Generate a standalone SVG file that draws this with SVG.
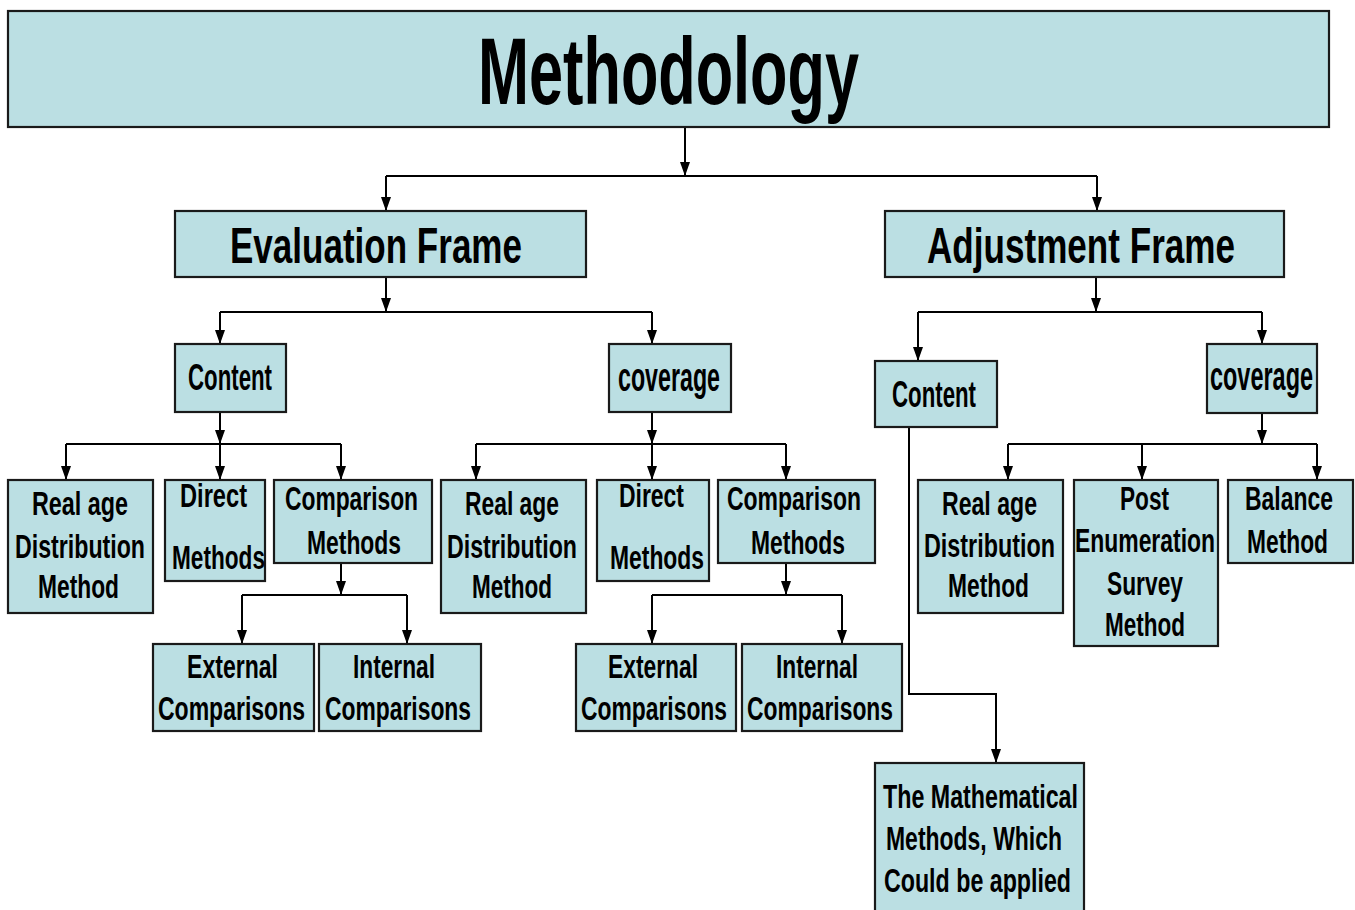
<svg xmlns="http://www.w3.org/2000/svg" width="1355" height="910" viewBox="0 0 1355 910">
  <defs>
    <marker id="arrow" viewBox="0 0 14 10" refX="14" refY="5" markerWidth="14" markerHeight="10" markerUnits="userSpaceOnUse" orient="auto">
      <path d="M0,0 L14,5 L0,10 z" fill="#000"/>
    </marker>
  </defs>
  <style>
    .box { fill: #bbdfe3; stroke: #1a1a1a; stroke-width: 2.2; }
    .lbl { font-family: "Liberation Sans", Arial, sans-serif; font-weight: bold; fill: #000; }
    .sm { font-size: 34px; }
    .link { fill: none; stroke: #000; stroke-width: 2; }
    .arr { fill: none; stroke: #000; stroke-width: 2; marker-end: url(#arrow); }
  </style>
  <rect width="1355" height="910" fill="#fff"/>

  <!-- connectors -->
  <g id="connectors">
    <path class="arr" d="M685 127 V176"/>
    <path class="link" d="M386 176 H1097"/>
    <path class="arr" d="M386 176 V211"/>
    <path class="arr" d="M1097 176 V211"/>

    <path class="arr" d="M386 277 V312"/>
    <path class="link" d="M220 312 H652"/>
    <path class="arr" d="M220 312 V344"/>
    <path class="arr" d="M652 312 V344"/>

    <path class="arr" d="M1096 277 V312"/>
    <path class="link" d="M918 312 H1262"/>
    <path class="arr" d="M918 312 V361"/>
    <path class="arr" d="M1262 312 V344"/>

    <path class="arr" d="M220 412 V444"/>
    <path class="link" d="M66 444 H341"/>
    <path class="arr" d="M66 444 V480"/>
    <path class="arr" d="M220 444 V480"/>
    <path class="arr" d="M341 444 V480"/>
    <path class="arr" d="M341 563 V595"/>
    <path class="link" d="M242 595 H407"/>
    <path class="arr" d="M242 595 V644"/>
    <path class="arr" d="M407 595 V644"/>

    <path class="arr" d="M652 412 V444"/>
    <path class="link" d="M476 444 H786"/>
    <path class="arr" d="M476 444 V480"/>
    <path class="arr" d="M652 444 V480"/>
    <path class="arr" d="M786 444 V480"/>
    <path class="arr" d="M786 563 V595"/>
    <path class="link" d="M652 595 H842"/>
    <path class="arr" d="M652 595 V644"/>
    <path class="arr" d="M842 595 V644"/>

    <path class="arr" d="M1262 413 V444"/>
    <path class="link" d="M1008 444 H1317"/>
    <path class="arr" d="M1008 444 V480"/>
    <path class="arr" d="M1142 444 V480"/>
    <path class="arr" d="M1317 444 V480"/>

    <path class="arr" d="M909 427 V694 H996 V763"/>
  </g>

  <!-- top level -->
  <g id="methodology">
    <rect class="box" x="8" y="11" width="1321" height="116"/>
    <text class="lbl" x="478" y="104" font-size="95" textLength="381" lengthAdjust="spacingAndGlyphs">Methodology</text>
  </g>

  <g id="evaluation-frame">
    <rect class="box" x="175" y="211" width="411" height="66"/>
    <text class="lbl" x="230" y="263" font-size="50" textLength="292" lengthAdjust="spacingAndGlyphs">Evaluation Frame</text>
  </g>

  <g id="adjustment-frame">
    <rect class="box" x="885" y="211" width="399" height="66"/>
    <text class="lbl" x="927" y="263" font-size="50" textLength="308" lengthAdjust="spacingAndGlyphs">Adjustment Frame</text>
  </g>

  <!-- evaluation / content branch -->
  <g id="eval-content">
    <rect class="box" x="175" y="344" width="111" height="68"/>
    <text class="lbl" x="188" y="390" font-size="37" textLength="84" lengthAdjust="spacingAndGlyphs">Content</text>
  </g>
  <g id="eval-content-real-age">
    <rect class="box" x="8" y="480" width="145" height="133"/>
    <text class="lbl sm" x="32" y="515" textLength="96" lengthAdjust="spacingAndGlyphs">Real age</text>
    <text class="lbl sm" x="15" y="558" textLength="130" lengthAdjust="spacingAndGlyphs">Distribution</text>
    <text class="lbl sm" x="38" y="598" textLength="81" lengthAdjust="spacingAndGlyphs">Method</text>
  </g>
  <g id="eval-content-direct">
    <rect class="box" x="165" y="480" width="100" height="101"/>
    <text class="lbl sm" x="180" y="507" textLength="67" lengthAdjust="spacingAndGlyphs">Direct</text>
    <text class="lbl sm" x="172" y="569" textLength="93" lengthAdjust="spacingAndGlyphs">Methods</text>
  </g>
  <g id="eval-content-comparison">
    <rect class="box" x="274" y="480" width="158" height="83"/>
    <text class="lbl sm" x="285" y="510" textLength="133" lengthAdjust="spacingAndGlyphs">Comparison</text>
    <text class="lbl sm" x="307" y="554" textLength="94" lengthAdjust="spacingAndGlyphs">Methods</text>
  </g>
  <g id="eval-content-external">
    <rect class="box" x="153" y="644" width="161" height="87"/>
    <text class="lbl sm" x="187" y="678" textLength="91" lengthAdjust="spacingAndGlyphs">External</text>
    <text class="lbl sm" x="158" y="720" textLength="147" lengthAdjust="spacingAndGlyphs">Comparisons</text>
  </g>
  <g id="eval-content-internal">
    <rect class="box" x="319" y="644" width="162" height="87"/>
    <text class="lbl sm" x="353" y="678" textLength="82" lengthAdjust="spacingAndGlyphs">Internal</text>
    <text class="lbl sm" x="325" y="720" textLength="146" lengthAdjust="spacingAndGlyphs">Comparisons</text>
  </g>

  <!-- evaluation / coverage branch -->
  <g id="eval-coverage">
    <rect class="box" x="609" y="344" width="122" height="68"/>
    <text class="lbl" x="618" y="391" font-size="41" textLength="102" lengthAdjust="spacingAndGlyphs">coverage</text>
  </g>
  <g id="eval-coverage-real-age">
    <rect class="box" x="441" y="480" width="145" height="133"/>
    <text class="lbl sm" x="465" y="515" textLength="94" lengthAdjust="spacingAndGlyphs">Real age</text>
    <text class="lbl sm" x="447" y="558" textLength="130" lengthAdjust="spacingAndGlyphs">Distribution</text>
    <text class="lbl sm" x="472" y="598" textLength="80" lengthAdjust="spacingAndGlyphs">Method</text>
  </g>
  <g id="eval-coverage-direct">
    <rect class="box" x="597" y="480" width="112" height="101"/>
    <text class="lbl sm" x="619" y="507" textLength="65" lengthAdjust="spacingAndGlyphs">Direct</text>
    <text class="lbl sm" x="610" y="569" textLength="94" lengthAdjust="spacingAndGlyphs">Methods</text>
  </g>
  <g id="eval-coverage-comparison">
    <rect class="box" x="718" y="480" width="157" height="83"/>
    <text class="lbl sm" x="727" y="510" textLength="134" lengthAdjust="spacingAndGlyphs">Comparison</text>
    <text class="lbl sm" x="751" y="554" textLength="94" lengthAdjust="spacingAndGlyphs">Methods</text>
  </g>
  <g id="eval-coverage-external">
    <rect class="box" x="576" y="644" width="160" height="87"/>
    <text class="lbl sm" x="608" y="678" textLength="90" lengthAdjust="spacingAndGlyphs">External</text>
    <text class="lbl sm" x="581" y="720" textLength="146" lengthAdjust="spacingAndGlyphs">Comparisons</text>
  </g>
  <g id="eval-coverage-internal">
    <rect class="box" x="742" y="644" width="160" height="87"/>
    <text class="lbl sm" x="776" y="678" textLength="82" lengthAdjust="spacingAndGlyphs">Internal</text>
    <text class="lbl sm" x="747" y="720" textLength="146" lengthAdjust="spacingAndGlyphs">Comparisons</text>
  </g>

  <!-- adjustment branch -->
  <g id="adj-content">
    <rect class="box" x="875" y="361" width="122" height="66"/>
    <text class="lbl" x="892" y="407" font-size="37" textLength="84" lengthAdjust="spacingAndGlyphs">Content</text>
  </g>
  <g id="adj-coverage">
    <rect class="box" x="1207" y="344" width="110" height="69"/>
    <text class="lbl" x="1210" y="390" font-size="41" textLength="103" lengthAdjust="spacingAndGlyphs">coverage</text>
  </g>
  <g id="adj-coverage-real-age">
    <rect class="box" x="918" y="480" width="145" height="133"/>
    <text class="lbl sm" x="942" y="515" textLength="95" lengthAdjust="spacingAndGlyphs">Real age</text>
    <text class="lbl sm" x="924" y="557" textLength="131" lengthAdjust="spacingAndGlyphs">Distribution</text>
    <text class="lbl sm" x="948" y="597" textLength="81" lengthAdjust="spacingAndGlyphs">Method</text>
  </g>
  <g id="adj-coverage-pes">
    <rect class="box" x="1074" y="480" width="144" height="166"/>
    <text class="lbl sm" x="1120" y="510" textLength="49" lengthAdjust="spacingAndGlyphs">Post</text>
    <text class="lbl sm" x="1075" y="552" textLength="140" lengthAdjust="spacingAndGlyphs">Enumeration</text>
    <text class="lbl sm" x="1107" y="595" textLength="76" lengthAdjust="spacingAndGlyphs">Survey</text>
    <text class="lbl sm" x="1105" y="636" textLength="80" lengthAdjust="spacingAndGlyphs">Method</text>
  </g>
  <g id="adj-coverage-balance">
    <rect class="box" x="1228" y="480" width="125" height="83"/>
    <text class="lbl sm" x="1245" y="510" textLength="88" lengthAdjust="spacingAndGlyphs">Balance</text>
    <text class="lbl sm" x="1247" y="553" textLength="81" lengthAdjust="spacingAndGlyphs">Method</text>
  </g>
  <g id="adj-content-math">
    <rect class="box" x="875" y="763" width="209" height="160"/>
    <text class="lbl sm" x="883" y="808" textLength="195" lengthAdjust="spacingAndGlyphs">The Mathematical</text>
    <text class="lbl sm" x="886" y="850" textLength="176" lengthAdjust="spacingAndGlyphs">Methods, Which</text>
    <text class="lbl sm" x="884" y="892" textLength="187" lengthAdjust="spacingAndGlyphs">Could be applied</text>
  </g>
</svg>
